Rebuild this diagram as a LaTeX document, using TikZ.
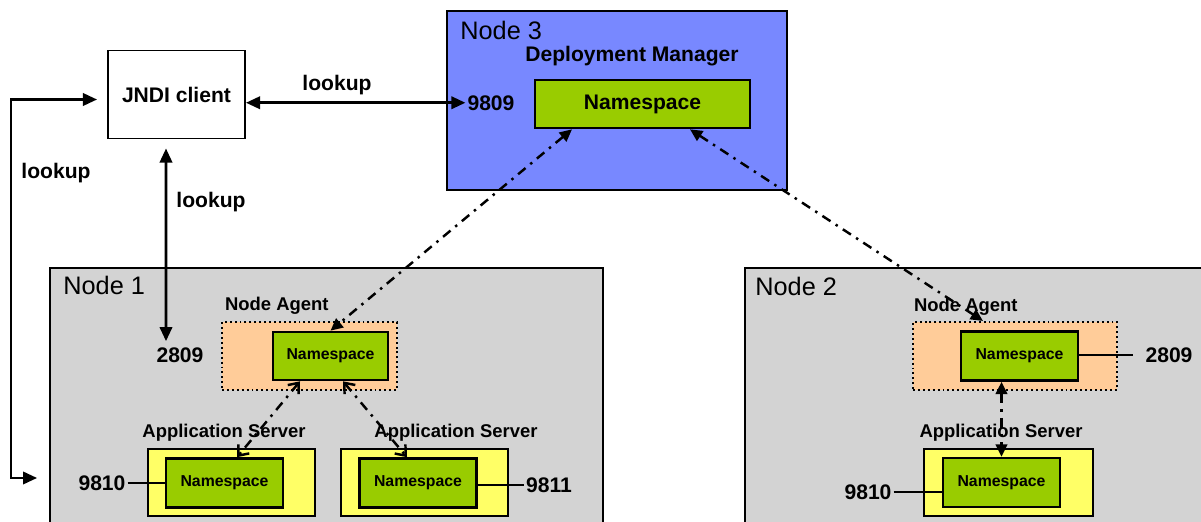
\documentclass[tikz,border=0pt]{standalone}
\usepackage{fontspec}
\setmainfont{Liberation Sans}
\usetikzlibrary{arrows.meta}

\definecolor{dmblue}{RGB}{120,136,255}
\definecolor{hostgray}{RGB}{211,211,211}
\definecolor{agentpeach}{RGB}{255,204,153}
\definecolor{nsgreen}{RGB}{153,204,0}
\definecolor{asyellow}{RGB}{255,255,102}

\newcommand\hostfont{\fontsize{14.4}{16}\selectfont}
\newcommand\lblfont{\fontsize{12}{14}\selectfont\bfseries}
\newcommand\rolefont{\fontsize{10.5}{12}\selectfont\bfseries}
\newcommand\nsfont{\fontsize{9}{11}\selectfont\bfseries}

\tikzset{
  host/.style={draw, line width=1.1pt, fill=hostgray, rectangle, inner sep=0pt},
  client/.style={draw, line width=1.1pt, fill=white, rectangle, font=\lblfont},
  agent/.style={draw, line width=1.2pt, fill=agentpeach, dash pattern=on 1.1pt off 1.7pt,
    minimum height=1.36cm},
  appsrv/.style={draw, line width=1.1pt, fill=asyellow, minimum width=3.34cm, minimum height=1.34cm},
  ns/.style={draw, line width=1.5pt, fill=nsgreen, font=\nsfont, minimum width=2.34cm, minimum height=0.98cm},
  txt/.style={inner sep=1pt, font=\lblfont, anchor=base},
  role/.style={inner sep=1pt, font=\rolefont, anchor=base},
  hostlbl/.style={inner sep=0pt, font=\hostfont, anchor=base west},
  lookup/.style={{Triangle[length=8pt,width=7pt]}-{Triangle[length=8pt,width=7pt]}, line width=1.5pt},
  nsref/.style={{Triangle[length=7pt,width=6.5pt]}-{Triangle[length=7pt,width=6.5pt]}, line width=1.4pt,
    dash pattern=on 5.5pt off 3.5pt on 1.4pt off 3.5pt},
  nsopen/.style={nsref, {Straight Barb[length=5pt,width=8pt]}-{Straight Barb[length=5pt,width=8pt]}},
  wire/.style={line width=1.1pt}
}

\begin{document}
\begin{tikzpicture}[x=0.02cm, y=-0.02cm]
  \useasboundingbox (0,0) rectangle (1201,521);

  % hosts
  \node[host, fill=dmblue, minimum width=6.8cm, minimum height=3.58cm] (node3) at (617,100.5) {};
  \node[host, minimum width=11.06cm, minimum height=5.24cm] (node1) at (326.5,399) {};
  \node[host, minimum width=9.3cm, minimum height=5.24cm] (node2) at (977.5,399) {};
  \node[hostlbl] (node3lbl) at (460,39) {Node 3};
  \node[hostlbl] (node1lbl) at (63,294) {Node 1};
  \node[hostlbl] (node2lbl) at (755,295) {Node 2};

  % client
  \node[client, minimum width=2.74cm, minimum height=1.76cm] (jndi) at (176.5,94.5) {JNDI client};
  \node[txt] (lkTop) at (337,90) {lookup};
  \node[txt] (lkLeft) at (56,178) {lookup};
  \node[txt] (lkDown) at (211,207) {lookup};

  % deployment manager
  \node[txt] (dmlbl) at (632,61) {Deployment Manager};
  \node[ns, font=\lblfont, minimum width=4.3cm, minimum height=0.96cm] (nsDM) at (642.5,104) {Namespace};
  \node[txt] (l9809) at (491,110) {9809};

  % node 1
  \node[agent, minimum width=3.5cm] (agent1) at (309.5,356) {};
  \node[role, anchor=base west] (ag1lbl) at (223,310) {Node Agent};
  \node[ns, minimum width=2.3cm, minimum height=0.96cm] (nsAg1) at (330.5,356) {Namespace};
  \node[txt] (l2809a) at (180,362) {2809};
  \node[appsrv] (as1) at (231.5,482.5) {};
  \node[appsrv] (as2) at (424.5,482.5) {};
  \node[role] (as1lbl) at (224,437) {Application Server};
  \node[role] (as2lbl) at (456,437) {Application Server};
  \node[ns] (nsAS1) at (224.5,483) {Namespace};
  \node[ns] (nsAS2) at (418,483) {Namespace};
  \node[txt] (l9810a) at (102,490) {9810};
  \node[txt] (l9811) at (549,492) {9811};

  % node 2
  \node[agent, minimum width=4.08cm] (agent2) at (1015,356) {};
  \node[role, anchor=base west] (ag2lbl) at (912,311) {Node Agent};
  \node[ns] (nsAg2) at (1019.5,356) {Namespace};
  \node[txt] (l2809b) at (1169,362) {2809};
  \node[appsrv, minimum width=3.38cm] (as3) at (1008.5,482.5) {};
  \node[role] (as3lbl) at (1001,437) {Application Server};
  \node[ns] (nsAS3) at (1001.5,482.5) {Namespace};
  \node[txt] (l9810b) at (868,499) {9810};

  % ports
  \draw[wire] (l9810a.east) -- (l9810a.east -| nsAS1.west);
  \draw[wire] (l9811.west -| nsAS2.east) -- (l9811.west);
  \draw[wire] (l2809b.west -| nsAg2.east) -- ([xshift=-0.2cm]l2809b.west);
  \draw[wire] (l9810b.east) -- (l9810b.east -| nsAS3.west);

  % lookups
  \draw[lookup] (jndi.east |- l9809.west) -- (l9809.west);
  \draw[lookup] ([xshift=-0.21cm,yshift=-0.18cm]jndi.south) -- ([xshift=-0.28cm,yshift=0.08cm]l2809a.north);
  \draw[lookup] ([xshift=-0.2cm,yshift=-0.1cm]jndi.west) -- ++(-86,0)
    |- ([xshift=-0.24cm,yshift=-1.58cm]node1.west);

  % namespace federation
  \draw[nsref] ([xshift=-1.41cm]nsDM.south) -- (nsAg1.north);
  \draw[nsref] ([xshift=0.95cm]nsDM.south) -- ([xshift=-0.64cm]agent2.north);
  \draw[nsopen] ([xshift=-0.61cm]nsAg1.south) -- ([xshift=0.25cm]nsAS1.north);
  \draw[nsopen] ([xshift=0.25cm]nsAg1.south) -- ([xshift=-0.22cm]nsAS2.north);
  \draw[nsref] (nsAS3.north |- nsAg2.south) -- (nsAS3.north);
\end{tikzpicture}
\end{document}
